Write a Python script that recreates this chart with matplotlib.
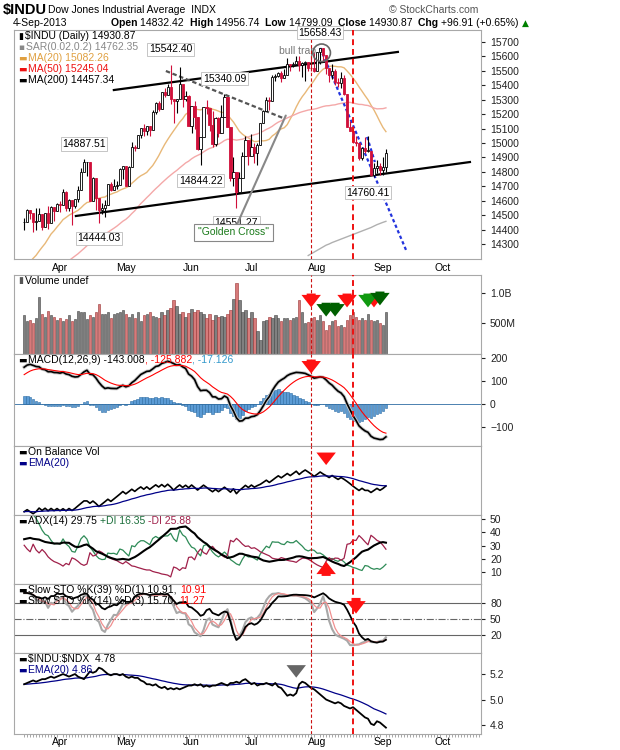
import numpy as np
import pandas as pd
import matplotlib
matplotlib.use("Agg")
import matplotlib.pyplot as plt

plt.rcParams["font.family"] = "Liberation Sans"
plt.rcParams["text.parse_math"] = False

# ---------------- data ----------------
pre_closes = [13412,13391,13435,13385,13329,13390,13471,13488,13507,13535,13511,13596,13650,13712,13779,13825,13896,13882,13954,13910,13861,
              14010,13880,13979,13986,13944,14009,13971,14019,13982,13973,13981,14035,13928,13881,14000,13784,13900,14075,14054,
              14090,14128,14254,14296,14329,14397,14448,14450]
closes = [14455,14539,14514,14452,14456,14511,14421,14512,14447,14559,14526,14578,
          14573,14662,14550,14606,14565,14613,14673,14802,14865,14865,14599,14757,14619,14537,14547,14567,14719,14676,14700,14712,14818,14840,
          14700,14831,14974,14968,15056,15105,15083,15118,15091,15215,15275,15233,15354,15335,15388,15307,15294,15303,15409,15302,15324,15116,
          15254,15177,14960,15041,15248,15239,15123,14995,15176,15070,15180,15318,15112,14758,14800,14659,14760,14910,15024,14910,
          14975,14932,14988,15136,15225,15300,15291,15460,15464,15485,15452,15471,15549,15543,15545,15568,15543,15555,15559,15522,15521,15500,
          15628,15658,15612,15519,15470,15498,15425,15419,15451,15337,15112,15081,15010,15002,14897,14963,14946,14946,14776,14824,14840,14810,
          14834,14931]
highs = [14480,14540,14539,14500,14550,14546,14511,14515,14563,14563,14559,14585,
         14600,14684,14665,14610,14606,14615,14705,14826,14888,14865,14865,14763,14757,14620,14581,14608,14719,14728,14749,14738,14830,14843,
         14840,14840,15009,14986,15058,15106,15134,15119,15120,15232,15284,15290,15354,15380,15410,15542,15307,15305,15530,15405,15360,15330,
         15254,15290,15177,15044,15250,15300,15238,15220,15180,15180,15260,15340,15318,15112,14900,14800,14800,14940,15050,15024,
         15060,15000,15000,15140,15230,15320,15320,15470,15480,15490,15500,15510,15590,15550,15560,15605,15600,15560,15570,15560,15600,15630,
         15630,15658,15658,15612,15519,15550,15510,15450,15490,15470,15337,15150,15120,15050,15000,14970,15040,15050,14946,14860,14880,14860,
         14900,14957]
lows = [14400,14455,14470,14380,14400,14456,14400,14421,14405,14448,14460,14527,
        14522,14573,14527,14531,14434,14552,14593,14672,14801,14773,14599,14600,14539,14444,14508,14487,14567,14665,14676,14680,14712,14750,
        14700,14700,14832,14945,14968,15033,15050,15058,15050,15091,15200,15220,15235,15320,15330,15270,15140,15209,15303,15250,15290,15115,
        15070,15100,14950,14844,15040,15200,15080,14970,14980,15040,15070,15180,15110,14740,14700,14551,14659,14760,14910,14850,
        14910,14860,14850,14988,15136,15225,15230,15291,15430,15460,15420,15450,15470,15500,15530,15545,15500,15460,15430,15500,15500,15490,
        15500,15550,15570,15480,15420,15440,15400,15390,15380,15330,15110,15080,15000,14980,14880,14880,14930,14940,14770,14761,14790,14780,
        14777,14799]
volumes_m = [600,520,540,500,560,900,620,580,660,600,570,540,
             560,520,550,600,520,550,660,650,640,550,600,570,640,780,620,620,650,560,620,630,640,680,
             610,580,620,560,640,520,600,620,640,590,570,560,640,600,680,700,840,740,620,650,570,630,
             690,640,670,650,620,560,610,540,600,580,590,570,620,670,860,1250,840,640,680,560,
             640,560,420,340,520,540,580,560,600,560,520,560,560,540,560,580,840,650,500,510,560,580,
             530,600,520,430,480,520,540,470,480,460,540,600,640,580,540,560,540,620,540,520,540,500,
             480,640]
ratio = [5.12,5.13,5.14,5.15,5.14,5.15,5.16,5.16,5.17,5.18,5.17,5.18,
         5.19,5.20,5.19,5.18,5.19,5.20,5.18,5.17,5.16,5.19,5.22,5.21,5.22,5.25,5.24,5.22,5.20,5.19,5.20,5.20,5.19,5.20,
         5.18,5.17,5.18,5.17,5.17,5.15,5.14,5.12,5.12,5.11,5.12,5.10,5.09,5.10,5.08,5.09,5.08,5.09,5.08,5.09,5.10,5.11,
         5.11,5.12,5.11,5.12,5.10,5.11,5.10,5.11,5.11,5.12,5.13,5.12,5.11,5.13,5.13,5.14,5.13,5.15,5.16,5.14,
         5.12,5.13,5.11,5.12,5.12,5.13,5.12,5.11,5.13,5.10,5.09,5.06,5.03,5.04,5.03,5.05,5.12,5.14,5.13,5.11,5.09,5.08,
         5.06,5.04,5.02,5.00,4.99,4.98,4.97,4.98,4.97,4.95,4.94,4.93,4.94,4.92,4.90,4.88,4.86,4.85,4.81,4.80,4.83,4.82,
         4.80,4.78]
ma200_vals = [14220,14232,14244,14256,14268,14280,14292,14300,14310,14318,14326,14334,14342,14350,14358,14366,14374,14382,14390,14398,14406,14414,14424,14434,14442,14450,14457]
month_labels = ["Apr", "May", "Jun", "Jul", "Aug", "Sep", "Oct"]
month_idx = [12, 34, 56, 76, 98, 120, 140]
price_labels = [(20, 14887.51, "high"), (25, 14444.03, "low"), (49, 15542.40, "high"), (59, 14844.22, "low"),
                (67, 15340.09, "high"), (71, 14551.27, "low"), (99, 15658.43, "high"), (115, 14760.41, "low")]

# ---------------- indicators ----------------
allc = pd.Series(pre_closes + closes, dtype=float)
npre = len(pre_closes)
n = len(closes)
c = np.array(closes, float)
h = np.array(highs, float)
l = np.array(lows, float)
o = np.r_[pre_closes[-1], c[:-1]]

ma20 = allc.rolling(20).mean().values[npre:]
ma50 = allc.rolling(50, min_periods=40).mean().values[npre:]
ema12 = allc.ewm(span=12, adjust=False).mean()
ema26 = allc.ewm(span=26, adjust=False).mean()
macd = (ema12 - ema26)
sig = macd.ewm(span=9, adjust=False).mean()
macd_v = macd.values[npre:]; sig_v = sig.values[npre:]; hist = macd_v - sig_v

vol = np.array(volumes_m, float)
sgn = np.sign(np.diff(np.r_[pre_closes[-1], c]))
obv = np.cumsum(sgn * vol)
obv_ema = pd.Series(obv).ewm(span=20, adjust=False).mean().values

ah = np.r_[np.array(pre_closes, float), h]
al = np.r_[np.array(pre_closes, float), l]
ac = allc.values
pc = np.r_[ac[0], ac[:-1]]
tr = np.maximum.reduce([ah - al, np.abs(ah - pc), np.abs(al - pc)])
up = ah - np.r_[ah[0], ah[:-1]]
dn = np.r_[al[0], al[:-1]] - al
pdm = np.where((up > dn) & (up > 0), up, 0.0)
mdm = np.where((dn > up) & (dn > 0), dn, 0.0)
w = lambda s: pd.Series(s).ewm(alpha=1/14, adjust=False).mean().values
atr = w(tr)
pdi = 100 * w(pdm) / atr
mdi = 100 * w(mdm) / atr
dx = 100 * np.abs(pdi - mdi) / np.maximum(pdi + mdi, 1e-9)
adx = w(dx)
pdi, mdi, adx = pdi[npre:], mdi[npre:], adx[npre:]

def stoch(period):
    hh = pd.Series(ah).rolling(period, min_periods=1).max()
    ll = pd.Series(al).rolling(period, min_periods=1).min()
    raw = 100 * (pd.Series(ac) - ll) / (hh - ll).replace(0, np.nan)
    k = raw.rolling(3, min_periods=1).mean()
    return k.values[npre:], k.rolling(3, min_periods=1).mean().values[npre:]
k39, _ = stoch(39)
k14, d14 = stoch(14)
rat = np.array(ratio)
rat_ema = pd.Series(rat).ewm(span=20, adjust=False).mean().values

# ---------------- layout ----------------
W, H = 620, 750
fig = plt.figure(figsize=(6.2, 7.5), dpi=100)
L, R = 14, 481
fs = 7.5
def mk(top, bot):
    ax = fig.add_axes([L / W, 1 - bot / H, (R - L) / W, (bot - top) / H])
    for s in ax.spines.values():
        s.set_color("#a8a8a8")
    ax.yaxis.tick_right()
    ax.tick_params(axis="y", labelsize=fs, length=3, colors="#222222")
    ax.set_xlim(-3.4, 152.8)
    ax.set_xticks(month_idx)
    ax.tick_params(axis="x", length=0, labelbottom=False)
    return ax

RED = "#d0103a"
ax0 = mk(30, 259)
ax1 = mk(275, 354)
ax2 = mk(354, 446)
ax3 = mk(446, 515)
ax4 = mk(515, 584)
ax5 = mk(584, 653)
ax6 = mk(653, 734)
axes = [ax0, ax1, ax2, ax3, ax4, ax5, ax6]

fig.canvas.draw()
renderer = fig.canvas.get_renderer()
ICONS = {"▮", "▪", "▬", "▲"}

def seg_text(xpx, ypx, parts, size=fs):
    x = xpx
    for t, col, bold in parts:
        kw = {"family": "DejaVu Sans", "fontsize": size - 1} if t.strip() in ICONS else {"fontsize": size}
        txt = fig.text(x / W, 1 - ypx / H, t, color=col, va="center",
                       fontweight="bold" if bold else "normal", **kw)
        x += txt.get_window_extent(renderer).width + (2 if t.strip() in ICONS else 0)

# header
seg_text(3, 10, [("$INDU", "black", True)], size=10.5)
seg_text(48, 10, [("Dow Jones Industrial Average  INDX", "black", False)])
fig.text(478 / W, 1 - 10 / H, "© StockCharts.com", fontsize=fs, va="center", ha="right", color="#555555")
seg_text(13, 23, [("4-Sep-2013", "black", False)])
seg_text(111, 23, [("Open ", "black", True), ("14832.42  ", "black", False), ("High ", "black", True),
                   ("14956.74  ", "black", False), ("Low ", "black", True), ("14799.09  ", "black", False),
                   ("Close ", "black", True), ("14930.87  ", "black", False), ("Chg ", "black", True),
                   ("+96.91 (+0.65%) ", "black", False), ("▲", "green", False)])

def panel_legend(lines, top):
    for j, parts in enumerate(lines):
        seg_text(L + 4, top + 6 + 11 * j, parts)

# ---- main price ----
ax0.set_ylim(14196, 15783)
ax0.set_yticks(range(14300, 15701, 100))
xs = np.arange(n)
ax0.plot(xs, ma20, color="#e8b878", lw=1)
ax0.plot(xs, ma50, color="#f4a8a8", lw=1)
ax0.plot(np.arange(n - len(ma200_vals), n), ma200_vals, color="#b0b0b0", lw=1)
for i in range(n):
    down = c[i] < (c[i - 1] if i else pre_closes[-1])
    col = RED if down else "black"
    ax0.vlines(i, l[i], h[i], color=col, lw=0.8, zorder=3)
    bot, top = min(o[i], c[i]), max(o[i], c[i])
    face = col if c[i] < o[i] else "white"
    ax0.bar(i, max(top - bot, 2), bottom=bot, width=0.75, color=face, edgecolor=col, lw=0.6, zorder=4)
ax0.plot([30.0, 125.0], [15367, 15631], color="black", lw=1.6)
ax0.plot([17.3, 149.1], [14494, 14868], color="black", lw=1.6)
ax0.plot([47.4, 86.6], [15499, 15173], color="#555555", lw=1.6, ls=(0, (2, 1.2)))
ax0.plot([99, 128], [15658, 14245], color="#2233dd", lw=1.6, ls=(0, (1.5, 1.2)))
ax0.plot([114.7, 117.3], [15042, 14868], color="#2233dd", lw=1.6, ls=(0, (1.5, 1.2)))
for idx, val, kind in price_labels:
    yoff = 11 if kind == "high" else -11
    ax0.annotate(f"{val:.2f}", (idx, val), xytext=(0, yoff), textcoords="offset points", ha="center",
                 va="center", fontsize=7.5, bbox=dict(boxstyle="square,pad=0.15", fc="white", ec="#bbbbbb", lw=0.6), zorder=6)
ax0.text(97.5, 15600, "bull trap", fontsize=fs, color="#777777", ha="right", va="bottom")
ax0.scatter([99.5], [15625], s=160, facecolors="none", edgecolors="#666666", lw=1.2, zorder=6)
ax0.annotate('"Golden Cross"', (87.5, 15190), xytext=(70, 14380), fontsize=fs, color="#1a7a1a", ha="center", va="center",
             bbox=dict(boxstyle="square,pad=0.35", fc="white", ec="#888888", lw=0.8),
             arrowprops=dict(arrowstyle="-", color="#888888", lw=1.5, shrinkA=0, shrinkB=0), zorder=7)
panel_legend([[("▮", "black", False), ("$INDU (Daily) 14930.87", "black", False)],
              [("▪", "#888888", False), ("SAR(0.02,0.2) 14762.35", "#888888", False)],
              [("▬", "#e0a040", False), ("MA(20) 15082.26", "#e0a040", False)],
              [("▬", "#ee1111", False), ("MA(50) 15245.04", "#ee1111", False)],
              [("▬", "black", False), ("MA(200) 14457.34", "black", False)]], 30)
for i, m in zip(month_idx, month_labels):
    fig.text((L + (i + 3.4) / 156.2 * (R - L)) / W, 1 - 268 / H, m, ha="center", va="center", fontsize=fs)

# ---- volume ----
ax1.bar(xs, vol * 1e6, width=0.8, color=[("#d77a7a" if s < 0 else "#808080") for s in sgn],
        edgecolor=["#993333" if s < 0 else "#444444" for s in sgn], lw=0.4)
ax1.set_yscale("log")
ax1.set_ylim(245e6, 1.51e9)
ax1.set_yticks([5e8, 1e9]); ax1.set_yticklabels(["500M", "1.0B"])
ax1.minorticks_off()
panel_legend([[("▮", "#555555", False), ("Volume undef", "black", False)]], 275)
ARW = "simple,head_width=1.4,head_length=0.9,tail_width=0.65"
for xi, col, yb in [(96, "#ff1111", 1.05e9), (101, "#006000", 0.85e9), (104, "#006000", 0.85e9), (108, "#ff1111", 1.05e9),
                    (117, "#ff1111", 1.05e9), (115, "#109910", 1.05e9), (119, "#006000", 1.1e9)]:
    ax1.annotate("", xy=(xi, yb * 0.64), xytext=(xi, yb),
                 arrowprops=dict(arrowstyle=ARW, color=col, lw=0), zorder=7)

# ---- MACD ----
ax2.set_ylim(-183, 217)
ax2.set_yticks([-100, 0, 100, 200])
ax2.bar(xs, hist, width=0.9, color="#5b9bd5", edgecolor="#2e6da4", lw=0.4)
ax2.axhline(0, color="#2e6da4", lw=0.6)
ax2.plot(xs, macd_v, color="#c8c8c8", lw=2.5)
ax2.plot(xs, macd_v, color="black", lw=1.2)
ax2.plot(xs, sig_v, color="red", lw=0.8)
panel_legend([[("▬", "black", False), ("MACD(12,26,9) -143.008", "black", False), (", -125.882", "red", False), (", -17.126", "#3399cc", False)]], 354)
ax2.annotate("", xy=(96, 120), xytext=(96, 205), arrowprops=dict(arrowstyle=ARW, color="#ff1111", lw=0), zorder=7)

# ---- OBV ----
ax3.plot(xs, obv, color="black", lw=1.2)
ax3.plot(xs, obv_ema, color="#000088", lw=0.9)
lo, hi = obv.min(), obv.max()
ax3.set_ylim(lo - 0.03 * (hi - lo), hi + 0.55 * (hi - lo))
ax3.set_yticks([])
panel_legend([[("▬", "black", False), ("On Balance Vol", "black", False)], [("▬", "#000088", False), ("EMA(20)", "#000088", False)]], 446)
ax3.annotate("", xy=(101, hi + 0.05 * (hi - lo)), xytext=(101, hi + 0.45 * (hi - lo)),
             arrowprops=dict(arrowstyle=ARW, color="#ff1111", lw=0), zorder=7)

# ---- ADX ----
ax4.set_ylim(1, 53)
ax4.set_yticks([10, 20, 30, 40, 50])
ax4.plot(xs, pdi, color="#2e8b57", lw=0.9)
ax4.plot(xs, mdi, color="#a0204a", lw=0.9)
ax4.plot(xs, adx, color="black", lw=1.5)
panel_legend([[("▬", "black", False), ("ADX(14) 29.75 ", "black", False), ("+DI 16.35 ", "#1a6e3a", False), ("-DI 25.88", "#a0204a", False)]], 515)
ax4.annotate("", xy=(101, 20), xytext=(101, 5), arrowprops=dict(arrowstyle=ARW, color="#ff1111", lw=0), zorder=7)

# ---- STO ----
ax5.set_ylim(-14, 116)
ax5.set_yticks([20, 50, 80])
for v, st in [(80, "-"), (50, "-."), (20, "-")]:
    ax5.axhline(v, color="#666666", lw=0.8, ls=st)
ax5.plot(xs, k14, color="#a8a8a8", lw=1.5)
ax5.plot(xs, d14, color="#f09090", lw=0.9)
ax5.plot(xs, k39, color="black", lw=1.3)
panel_legend([[("▬", "black", False), ("Slow STO %K(39) %D(1) 10.91, ", "black", False), ("10.91", "red", False)],
              [("▬", "black", False), ("Slow STO %K(14) %D(3) 15.70, ", "black", False), ("11.27", "red", False)]], 584)
ax5.annotate("", xy=(111, 55), xytext=(111, 95), arrowprops=dict(arrowstyle=ARW, color="#ff1111", lw=0), zorder=7)

# ---- ratio ----
ax6.set_ylim(4.73, 5.365)
ax6.set_yticks([4.8, 5.0, 5.2])
ax6.set_yticklabels(["4.8", "5.0", "5.2"])
ax6.plot(xs, rat_ema, color="#000088", lw=0.9)
ax6.plot(xs, rat, color="black", lw=1.3)
panel_legend([[("▬", "black", False), ("$INDU:$NDX  4.78", "black", False)], [("▬", "#000088", False), ("EMA(20) 4.86", "#000088", False)]], 653)
ax6.annotate("", xy=(91, 5.15), xytext=(91, 5.26), arrowprops=dict(arrowstyle=ARW, color="#666666", lw=0), zorder=7)
ax6.set_xticks(month_idx)
ax6.set_xticklabels(month_labels)
ax6.tick_params(axis="x", labelbottom=True, labelsize=fs, length=0, pad=2)
ax6.set_xticks(np.arange(0, 153), minor=True)
ax6.tick_params(axis="x", which="minor", length=2, color="#999999")

for ax in axes:
    ax.axvline(96, color="#cc1111", lw=0.8, ls=(0, (3, 2)), zorder=5)
    ax.axvline(110, color="#ee1111", lw=1.4, ls=(0, (3, 2)), zorder=5)

fig.savefig("out.png", dpi=100, facecolor="white")
